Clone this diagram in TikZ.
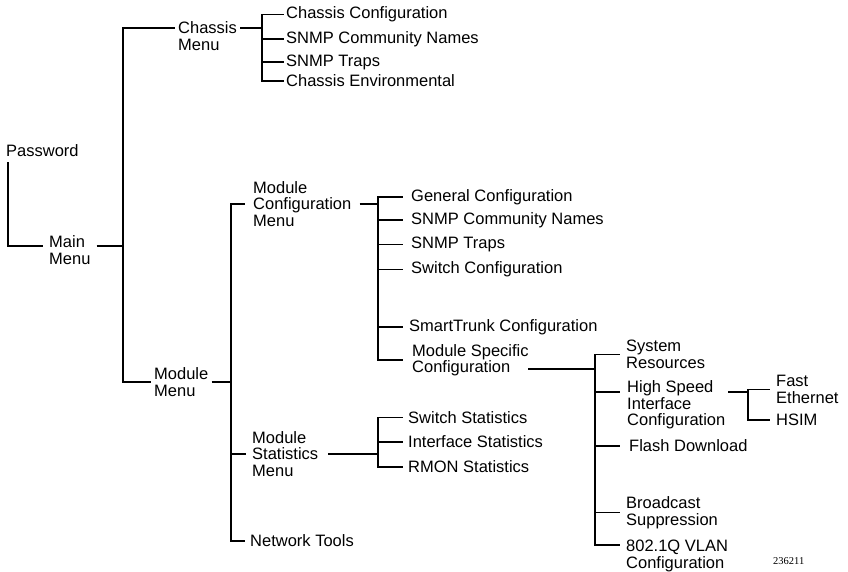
\documentclass[tikz,border=0pt]{standalone}
\usepackage{fontspec}
\setmainfont{Liberation Sans}
\newfontfamily\serialfont{Liberation Serif}
\tikzset{
    menu/.style={anchor=west, align=left, inner xsep=#1, inner ysep=0pt,
        font=\fontsize{16.5}{16.5}\selectfont},
    menu/.default=2pt,
    branch/.style={line width=1.8pt},
    serial/.style={anchor=west, inner sep=0pt,
        font=\serialfont\fontsize{10.5}{10.5}\selectfont}
}

\begin{document}
\begin{tikzpicture}[x=1pt, y=-1pt]
\useasboundingbox (0,0) rectangle (848,572);
% left column
\node[menu=0pt, inner ysep=5pt] (pw) at (6,151) {Password};
\node[menu=6pt] (mainm) at (43,250) {Main\\Menu};
\node[menu=3pt] (chassis) at (175,36) {Chassis\\Menu};
\node[menu=3pt] (modm) at (151,382) {Module\\Menu};
% chassis menu
\node[menu] (cconf) at (284,14.5) {Chassis Configuration};
\node[menu] (csnmp) at (284,39) {SNMP Community Names};
\node[menu] (ctraps) at (284,62) {SNMP Traps};
\node[menu] (cenv) at (284,81) {Chassis Environmental};
% module menu
\node[menu=8pt] (mconf) at (245,204) {Module\\Configuration\\Menu};
\node[menu=6pt] (mstat) at (246,454) {Module\\Statistics\\Menu};
\node[menu=5pt] (ntools) at (245,541) {Network Tools};
% module configuration menu
\node[menu=8pt] (gconf) at (403,197) {General Configuration};
\node[menu=8pt] (msnmp) at (403,220) {SNMP Community Names};
\node[menu=8pt] (mtraps) at (403,244.5) {SNMP Traps};
\node[menu=8pt] (swconf) at (403,269.5) {Switch Configuration};
\node[menu=6pt] (strunk) at (403,327) {SmartTrunk Configuration};
\node[menu=9pt] (mspec) at (403,360) {Module Specific\\Configuration};
% module statistics menu
\node[menu=5pt] (swstat) at (403,417.5) {Switch Statistics};
\node[menu=5pt] (ifstat) at (403,442) {Interface Statistics};
\node[menu=5pt] (rmon) at (403,467) {RMON Statistics};
% module specific configuration
\node[menu=6pt] (sysres) at (620,354.5) {System\\Resources};
\node[menu=7pt] (hsic) at (620,405) {High Speed\\Interface\\Configuration};
\node[menu=9pt] (flash) at (620,446) {Flash Download};
\node[menu=6pt] (bcast) at (620,512.5) {Broadcast\\Suppression};
\node[menu=6pt] (vlan) at (620,556) {802.1Q VLAN\\Configuration};
\node[menu=6pt] (fast) at (770,389.5) {Fast\\Ethernet};
\node[menu=6pt] (hsim) at (770,420) {HSIM};
\node[serial] (figno) at (773,561) {236211};

% junctions
\coordinate (jmain) at (123,246);
\coordinate (jchas) at (262,28);
\coordinate (jmod) at (231,382);
\coordinate (jmconf) at (378,204);
\coordinate (jstat) at (378,454);
\coordinate (jspec) at (595,369);
\coordinate (jhs) at (748,392);

\draw[branch] ([xshift=2pt]pw.south west) |- ([yshift=4pt]mainm.west);
\draw[branch] (jmain -| mainm.east) -- (jmain);
\draw[branch] (jmain) |- ([yshift=8pt]chassis.west);
\draw[branch] (jmain) |- (modm.west);

\draw[branch] (jchas -| chassis.east) -- (jchas);
\foreach \n in {cconf,csnmp,ctraps,cenv}
    \draw[branch] (jchas) |- (\n.west);

\draw[branch] (jmod -| modm.east) -- (jmod);
\foreach \n in {mconf,mstat,ntools}
    \draw[branch] (jmod) |- (\n.west);

\draw[branch] (jmconf -| mconf.east) -- (jmconf);
\foreach \n in {gconf,msnmp,mtraps,swconf,strunk,mspec}
    \draw[branch] (jmconf) |- (\n.west);

\draw[branch, shorten >=4pt] (jstat) -- (jstat -| mstat.east);
\foreach \n in {swstat,ifstat,rmon}
    \draw[branch] (jstat) |- (\n.west);

\draw[branch, shorten >=-10pt] (jspec) -- (jspec -| mspec.east);
\foreach \n in {sysres,flash,bcast}
    \draw[branch] (jspec) |- (\n.west);
\draw[branch] (jspec) |- ([yshift=13pt]hsic.west);
\draw[branch] (jspec) |- ([yshift=11pt]vlan.west);

\draw[branch, shorten >=-5pt] (jhs) -- (jhs -| hsic.east);
\draw[branch] (jhs) |- (fast.west);
\draw[branch] (jhs) |- (hsim.west);
\end{tikzpicture}
\end{document}
